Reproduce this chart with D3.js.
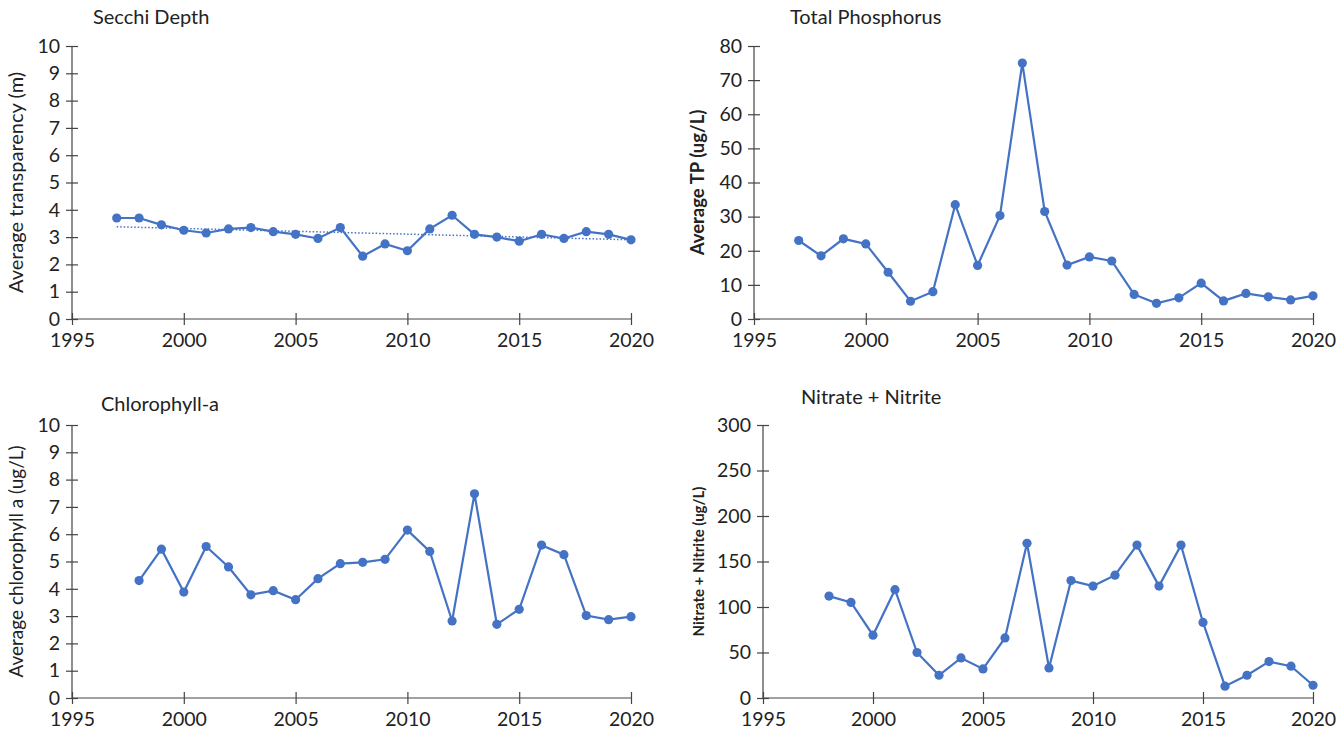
<!DOCTYPE html>
<meta charset="utf-8">
<title>Water quality trends</title>
<style>
body { margin: 0; background: #fff; font-family: 'Lato', sans-serif; }
svg { display: block; }
.axis text { font: 19.5px 'Lato', sans-serif; fill: #222; }
.axis path, .axis line { stroke: #444; stroke-width: 1.2; }
.title { font: 20px 'Lato', sans-serif; fill: #222; }
.ylab { fill: #222; }
</style>
<svg width="1340" height="738"></svg>
<script src="https://d3js.org/d3.v7.min.js"></script>
<script>

// years
var years97 = d3.range(1997, 2021);
var years98 = d3.range(1998, 2021);

// Secchi depth (m), 1997-2020
var secchi = [3.7, 3.7, 3.45, 3.25, 3.15, 3.3, 3.35, 3.2, 3.1, 2.95, 3.35, 2.3,
  2.75, 2.5, 3.3, 3.8, 3.1, 3.0, 2.85, 3.1, 2.95, 3.2, 3.1, 2.9];
// Total phosphorus (ug/L), 1997-2020
var tp = [23, 18.5, 23.5, 22, 13.7, 5.2, 8, 33.5, 15.7, 30.3, 75, 31.5,
  15.8, 18.2, 17, 7.2, 4.6, 6.2, 10.5, 5.3, 7.5, 6.5, 5.6, 6.8];
// Chlorophyll-a (ug/L), 1998-2020
var chla = [4.3, 5.45, 3.88, 5.55, 4.8, 3.78, 3.93, 3.6, 4.37, 4.92, 4.97, 5.08,
  6.15, 5.37, 2.82, 7.48, 2.7, 3.25, 5.6, 5.25, 3.02, 2.87, 2.98];
// Nitrate + nitrite (ug/L), 1998-2020
var nn = [112, 105, 69, 119, 50, 25, 44, 32, 66, 170, 33, 129,
  123, 135, 168, 123, 168, 83, 13, 25, 40, 35, 14];

var xTicks = [1995, 2000, 2005, 2010, 2015, 2020];

var panels = [
  { title: "Secchi Depth", ylab: "Average transparency (m)", bold: false, lsize: 20,
    years: years97, vals: secchi, ymax: 10, ystep: 1, trend: true,
    x0: 72, x1: 631, y0: 319, y1: 46, tx: 93, ty: 24, lx: 23 },
  { title: "Total Phosphorus", ylab: "Average  TP (ug/L)", bold: true, lsize: 18.5,
    years: years97, vals: tp, ymax: 80, ystep: 10, trend: false,
    x0: 754, x1: 1313, y0: 319, y1: 46, tx: 790, ty: 24, lx: 704 },
  { title: "Chlorophyll-a", ylab: "Average chlorophyll a (ug/L)", bold: false, lsize: 19,
    years: years98, vals: chla, ymax: 10, ystep: 1, trend: false,
    x0: 72, x1: 631, y0: 698, y1: 425, tx: 101, ty: 411, lx: 23 },
  { title: "Nitrate + Nitrite", ylab: "Nitrate + Nitrite (ug/L)", bold: true, lsize: 15,
    years: years98, vals: nn, ymax: 300, ystep: 50, trend: false,
    x0: 763, x1: 1313, y0: 698, y1: 425, tx: 801, ty: 404, lx: 704 }
];

var svg = d3.select("svg");
var blue = "#4472C4";

panels.forEach(function(p) {
  var x = d3.scaleLinear().domain([1995, 2020]).range([p.x0, p.x1]);
  var y = d3.scaleLinear().domain([0, p.ymax]).range([p.y0, p.y1]);
  var g = svg.append("g");

  // y axis with crossing ticks
  var ya = g.append("g").attr("class", "axis")
    .attr("transform", "translate(" + p.x0 + ",0)")
    .call(d3.axisLeft(y).tickValues(d3.range(0, p.ymax + 0.001, p.ystep))
      .tickSize(6).tickSizeOuter(0).tickPadding(6));
  ya.selectAll(".tick line").attr("x2", -6).attr("x1", 6);
  ya.select(".domain").attr("d", "M0," + p.y0 + "V" + p.y1);

  // x axis with crossing ticks
  var xa = g.append("g").attr("class", "axis")
    .attr("transform", "translate(0," + p.y0 + ")")
    .call(d3.axisBottom(x).tickValues(xTicks).tickFormat(d3.format("d"))
      .tickSize(6).tickSizeOuter(0).tickPadding(5));
  xa.selectAll(".tick line").attr("y1", -6).attr("y2", 6);
  xa.selectAll(".tick text").attr("dy", "0.85em");
  xa.select(".domain").attr("d", "M" + p.x0 + ",0H" + p.x1);

  // title
  g.append("text").attr("class", "title")
    .attr("x", p.tx).attr("y", p.ty).text(p.title);

  // y label
  g.append("text").attr("class", "ylab")
    .attr("transform", "translate(" + p.lx + "," + (p.y0 + p.y1) / 2 + ") rotate(-90)")
    .attr("text-anchor", "middle")
    .style("font-size", p.lsize + "px")
    .style("font-weight", p.bold ? "bold" : "normal")
    .text(p.ylab);

  var pts = p.years.map(function(yr, i) { return { year: yr, v: p.vals[i] }; });

  // trend line (least squares)
  if (p.trend) {
    var mx = d3.mean(pts, d => d.year), my = d3.mean(pts, d => d.v);
    var sxy = d3.sum(pts, d => (d.year - mx) * (d.v - my));
    var sxx = d3.sum(pts, d => (d.year - mx) * (d.year - mx));
    var b = sxy / sxx, a = my - b * mx;
    var ends = d3.extent(p.years);
    g.append("line")
      .attr("x1", x(ends[0])).attr("y1", y(a + b * ends[0]))
      .attr("x2", x(ends[1])).attr("y2", y(a + b * ends[1]))
      .attr("stroke", blue).attr("stroke-width", 1.5)
      .attr("stroke-dasharray", "1.5,2");
  }

  var line = d3.line().x(d => x(d.year)).y(d => y(d.v));
  g.append("path").datum(pts)
    .attr("d", line)
    .attr("fill", "none")
    .attr("stroke", blue)
    .attr("stroke-width", 2.2);

  g.selectAll(".dot").data(pts).enter().append("circle")
    .attr("cx", d => x(d.year)).attr("cy", d => y(d.v))
    .attr("r", 4.6).attr("fill", blue);
});
</script>
